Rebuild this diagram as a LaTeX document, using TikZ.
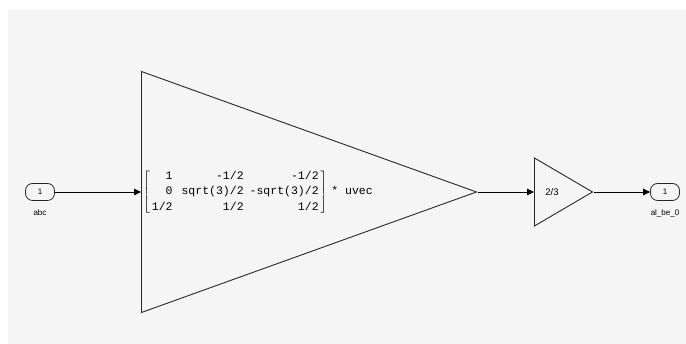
\documentclass[tikz,border=0pt]{standalone}
\usepackage{fontspec}
\setmainfont{Liberation Sans}
\newfontfamily\monofont{Liberation Mono}
\usepackage{tikz}
\usetikzlibrary{arrows.meta,positioning,shapes.geometric}
\definecolor{canvas}{RGB}{245,245,245}
\definecolor{edge}{RGB}{40,40,40}
\tikzset{
  port/.style={draw=edge,line width=0.8pt,rounded corners=7pt,minimum width=29pt,minimum height=17pt,inner sep=0pt,font=\fontsize{8}{9}\selectfont},
  portlabel/.style={font=\fontsize{8}{9}\selectfont,inner sep=0pt},
  gain/.style={isosceles triangle,isosceles triangle stretches=true,draw=edge,line width=0.9pt,inner sep=0pt,anchor=lower side},
  sig/.style={-{Triangle[length=7pt,width=6.5pt]},draw=black,line width=0.8pt}
}

\begin{document}
\begin{tikzpicture}[x=1pt,y=1pt]
  \useasboundingbox (0,0) rectangle (686,344);
  \fill[canvas] (8,0) rectangle (686,335);
  \node[port] (in1) at (40,152) {1};
  \node[portlabel,below=9pt of in1] (inname) {abc};
  \node[gain,minimum height=335pt,minimum width=241pt] (clarke) at (141,152) {};
  \node[anchor=west,inner sep=0pt,font=\monofont\fontsize{11.5}{13}\selectfont] (mat) at (143,152)
    {$\left[\begin{tabular}{@{\hspace{2pt}}r@{\hspace{9pt}}r@{\hspace{6pt}}r@{\hspace{2pt}}}
      \monofont 1 & \monofont -1/2 & \monofont -1/2\\[2.5pt]
      \monofont 0 & \monofont sqrt(3)/2 & \monofont -sqrt(3)/2\\[2.5pt]
      \monofont 1/2 & \monofont 1/2 & \monofont 1/2
    \end{tabular}\right]$\hspace{4pt}* uvec};
  \node[gain,minimum height=58pt,minimum width=68pt] (scale) at (534,152) {};
  \node[font=\fontsize{9.5}{11}\selectfont,inner sep=0pt] (ratio) at (552,152) {2/3};
  \node[port] (out1) at (665,152) {1};
  \node[portlabel,below=9pt of out1] (outname) {al\_be\_0};
  \draw[sig] (in1) -- (clarke.lower side);
  \draw[sig] (clarke.apex) -- (scale.lower side);
  \draw[sig] (scale.apex) -- (out1);
\end{tikzpicture}
\end{document}
